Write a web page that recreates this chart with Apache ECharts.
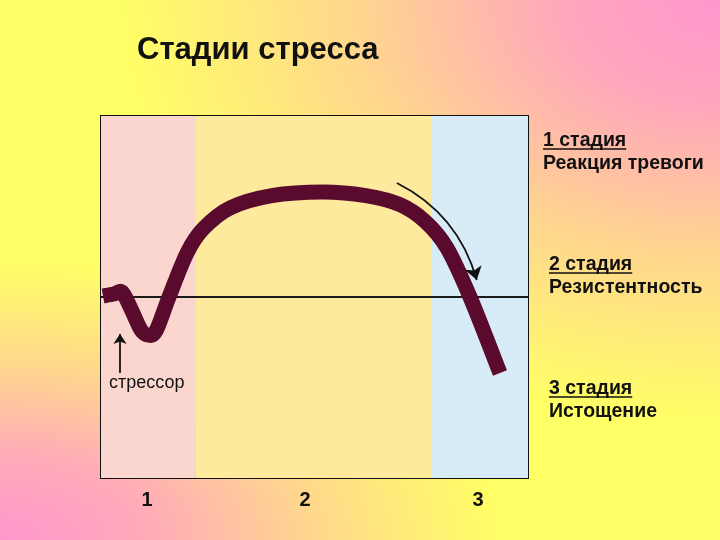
<!DOCTYPE html>
<html><head><meta charset="utf-8">
<script src="https://cdn.jsdelivr.net/npm/echarts@6/dist/echarts.min.js"></script>
<style>
html,body{margin:0;padding:0;}
#c{width:720px;height:540px;background:
 radial-gradient(ellipse 600px 420px at 100% 0%, rgba(255,150,205,1) 0%, rgba(255,150,205,0.85) 25%, rgba(255,150,205,0.4) 60%, rgba(255,150,205,0) 100%),
 radial-gradient(ellipse 500px 280px at 0% 100%, rgba(255,150,205,1) 0%, rgba(255,150,205,0.8) 30%, rgba(255,150,205,0.35) 65%, rgba(255,150,205,0) 100%),
 #ffff66;}
</style></head><body><div id="c"></div>
<script>
// ---- data ----
const chartTitle = 'Стадии стресса';
const bandStart = [0, 22.2, 77.5];
const bandEnd = [22.2, 77.5, 100];
const bandColors = ['#fbd6cf', '#fdea9c', '#d7ecf7'];
const curveX = [0.47, 3.04, 4.92, 7.0, 9.37, 11.01, 12.88, 15.93, 20.14, 23.9, 30.2, 40.0, 51.99, 62.0, 70.02, 76.0, 81.03, 86.42, 93.44];
const curveY = [50.28, 50.83, 51.38, 46.8, 40.88, 39.50, 40.61, 50.00, 62.15, 68.8, 74.6, 78.0, 79.01, 78.0, 75.5, 70.8, 63.54, 50.00, 29.01];
const baselineY = 50;
const trendArrowFrom = [69.3, 81.5];
const trendArrowTo = [88.0, 54.7];
const stressorArrowFrom = [4.45, 29.0];
const stressorArrowTo = [4.45, 39.8];
const stressorLabel = 'стрессор';
const stageNumbers = ['1', '2', '3'];
const stageNumberX = [10.8, 47.8, 88.3];
const stageTitles = ['1 стадия', '2 стадия', '3 стадия'];
const stageNames = ['Реакция тревоги', 'Резистентность', 'Истощение'];

// ---- chart ----
const chart = echarts.init(document.getElementById('c'), null, {renderer: 'canvas'});
const FONT = 'Liberation Sans, Arial, sans-serif';
const gridBox = {left: 101, top: 116, width: 427, height: 362};

const curveData = curveX.map((x, i) => [x, curveY[i]]);
const bands = bandStart.map((s, i) => [{xAxis: s, itemStyle: {color: bandColors[i]}}, {xAxis: bandEnd[i]}]);

// smooth curve through all data points (Catmull-Rom -> cubic Bezier), drawn in pixel space via api.coord
function renderCurve(params, api) {
  if (params.dataIndex !== 0) return null;
  const pts = curveData.map(d => api.coord(d));
  let d = 'M' + pts[0][0] + ' ' + pts[0][1];
  for (let i = 0; i < pts.length - 1; i++) {
    const p0 = pts[Math.max(i - 1, 0)], p1 = pts[i], p2 = pts[i + 1], p3 = pts[Math.min(i + 2, pts.length - 1)];
    const c1 = [p1[0] + (p2[0] - p0[0]) / 6, p1[1] + (p2[1] - p0[1]) / 6];
    const c2 = [p2[0] - (p3[0] - p1[0]) / 6, p2[1] - (p3[1] - p1[1]) / 6];
    d += ' C' + c1[0] + ' ' + c1[1] + ' ' + c2[0] + ' ' + c2[1] + ' ' + p2[0] + ' ' + p2[1];
  }
  return {type: 'path', shape: {pathData: d}, style: {fill: null, stroke: '#5a0b2d', lineWidth: 15, lineCap: 'butt', lineJoin: 'round'}};
}

chart.setOption({
  backgroundColor: 'transparent',
  animation: false,
  grid: Object.assign({show: true, borderColor: '#111', borderWidth: 2, backgroundColor: 'transparent'}, gridBox),
  xAxis: {type: 'value', min: 0, max: 100, show: false},
  yAxis: {type: 'value', min: 0, max: 100, show: false},
  series: [
    {
      type: 'line', data: [[0, baselineY], [100, baselineY]], symbol: 'none', silent: true,
      lineStyle: {color: '#1a1a1a', width: 2}, z: 2,
      markArea: {silent: true, itemStyle: {opacity: 1}, data: bands}
    },
    {
      type: 'custom', data: curveData, renderItem: renderCurve, silent: true, z: 5
    },
    {
      type: 'lines', coordinateSystem: 'cartesian2d', silent: true, z: 6,
      symbol: ['none', 'arrow'], symbolSize: [0, 13],
      lineStyle: {color: '#111', width: 1.8, curveness: 0.22, opacity: 1},
      data: [{coords: [trendArrowFrom, trendArrowTo]}]
    },
    {
      type: 'lines', coordinateSystem: 'cartesian2d', silent: true, z: 6,
      symbol: ['none', 'arrow'], symbolSize: [0, 10],
      lineStyle: {color: '#111', width: 1.8, curveness: 0, opacity: 1},
      data: [{coords: [stressorArrowFrom, stressorArrowTo]}]
    }
  ]
});

// ---- text ----
const graphics = [];
graphics.push({type: 'text', x: 137, y: 50, style: {text: chartTitle, font: 'bold 31px ' + FONT, fill: '#111', verticalAlign: 'middle'}});
const sp = chart.convertToPixel({gridIndex: 0}, [stressorArrowFrom[0], stressorArrowFrom[1]]);
graphics.push({type: 'text', x: 109, y: sp[1] + 10, style: {text: stressorLabel, font: '18px ' + FONT, fill: '#111', verticalAlign: 'middle'}, z: 10});
stageNumbers.forEach((t, i) => {
  const p = chart.convertToPixel({gridIndex: 0}, [stageNumberX[i], 0]);
  graphics.push({type: 'text', x: p[0], y: p[1] + 22, style: {text: t, font: 'bold 20px ' + FONT, fill: '#111', align: 'center', verticalAlign: 'middle'}});
});
const labelPos = [[543, 141, 164], [549, 265, 288], [549, 389, 412]];
const LF = 'bold 19.5px ' + FONT;
stageTitles.forEach((t, i) => {
  const [x, y1, y2] = labelPos[i];
  graphics.push({type: 'text', x: x, y: y1, style: {text: t, font: LF, fill: '#111', verticalAlign: 'middle'}});
  graphics.push({type: 'text', x: x, y: y2, style: {text: stageNames[i], font: LF, fill: '#111', verticalAlign: 'middle'}});
});
const ctx = document.createElement('canvas').getContext('2d');
ctx.font = LF;
stageTitles.forEach((t, i) => {
  const [x, y1] = labelPos[i];
  const w = ctx.measureText(t).width;
  graphics.push({type: 'line', shape: {x1: x, y1: y1 + 8, x2: x + w, y2: y1 + 8}, style: {stroke: '#111', lineWidth: 1.5}});
});
chart.setOption({graphic: graphics});
</script></body></html>
